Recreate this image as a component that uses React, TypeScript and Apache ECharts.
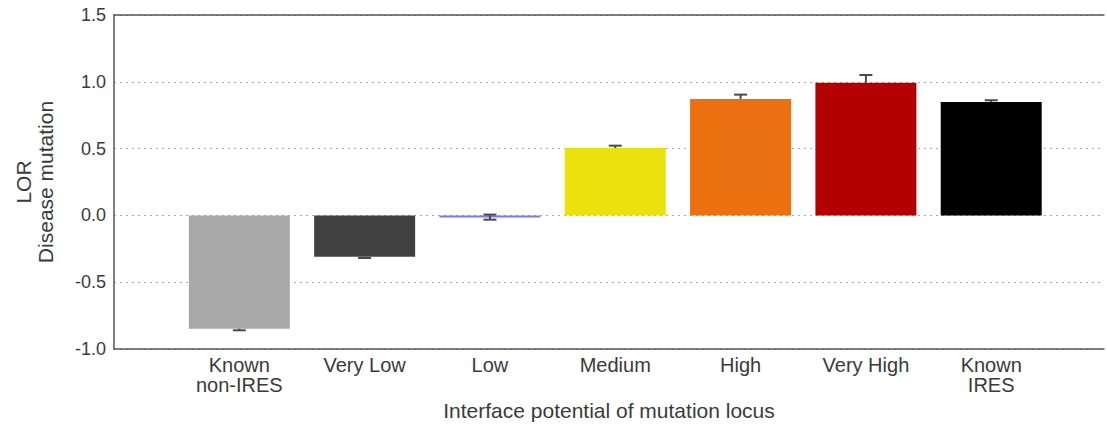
import React, { useEffect, useRef } from "react";
import * as echarts from "echarts";

// Categories of interface potential, left to right
const categories = ["Known\nnon-IRES", "Very Low", "Low", "Medium", "High", "Very High", "Known\nIRES"];
// Log odds ratio for disease mutations per category
const lorValues = [-0.848, -0.309, -0.016, 0.504, 0.871, 0.993, 0.849];
// Error interval bounds per category
const errorLow = [-0.86, -0.319, -0.032, 0.504, 0.871, 0.993, 0.849];
const errorHigh = [-0.848, -0.309, 0.006, 0.522, 0.904, 1.051, 0.862];
const barColors = ["#a8a8a8", "#404040", "#7b7bf0", "#ebe10c", "#eb700f", "#b30000", "#000000"];
const yMin = -1.0;
const yMax = 1.5;
const yStep = 0.5;

const TEXT = "#3a3a3a";
const FRAME = "#555555";
const FONT = "'Liberation Sans', Arial, Helvetica, sans-serif";

export default function App() {
  const ref = useRef<HTMLDivElement>(null);

  useEffect(() => {
    if (!ref.current) return;
    const chart = echarts.init(ref.current, undefined, { renderer: "svg" });
    const xMax = 7.9;

    chart.setOption({
      animation: false,
      textStyle: { fontFamily: FONT },
      grid: { left: 114, right: 0, top: 15, bottom: 82 },
      xAxis: [
        {
          type: "value",
          position: "bottom",
          min: 0,
          max: xMax,
          interval: 1,
          axisLine: { show: true, onZero: false, lineStyle: { color: FRAME, width: 1.5 } },
          axisTick: { show: false },
          splitLine: { show: false },
          axisLabel: {
            fontSize: 20,
            lineHeight: 20,
            color: TEXT,
            margin: 6,
            fontFamily: FONT,
            formatter: (v: number) => (Math.round(v) === v && v >= 1 && v <= categories.length ? categories[v - 1] : ""),
          },
          name: "Interface potential of mutation locus",
          nameLocation: "middle",
          nameGap: 50,
          nameTextStyle: { fontSize: 21, color: TEXT, fontFamily: FONT },
        },
        {
          type: "value",
          position: "top",
          min: 0,
          max: xMax,
          interval: 1,
          axisLine: { show: true, onZero: false, lineStyle: { color: FRAME, width: 1.5 } },
          axisTick: { show: false },
          axisLabel: { show: false },
          splitLine: { show: false },
        },
      ],
      yAxis: {
        type: "value",
        min: yMin,
        max: yMax,
        interval: yStep,
        axisLine: { show: true, onZero: false, lineStyle: { color: FRAME, width: 1.5 } },
        axisTick: { show: false },
        axisLabel: {
          fontSize: 18,
          color: TEXT,
          margin: 8,
          fontFamily: FONT,
          formatter: (v: number) => v.toFixed(1),
        },
        splitLine: { show: true, lineStyle: { type: [2, 4], color: "#aaaaaa", width: 1 } },
        name: "LOR\nDisease mutation",
        nameLocation: "middle",
        nameRotate: 90,
        nameGap: 58,
        nameTextStyle: { fontSize: 21, lineHeight: 22, color: TEXT, fontFamily: FONT },
      },
      series: [
        {
          type: "bar",
          xAxisIndex: 0,
          barWidth: 101,
          data: lorValues.map((v, i) => ({ value: [i + 1, v], itemStyle: { color: barColors[i] } })),
        },
        {
          type: "custom",
          xAxisIndex: 0,
          z: 5,
          data: lorValues.map((v, i) => [i + 1, errorLow[i], errorHigh[i], v]),
          renderItem: (_params: any, api: any) => {
            const x = api.value(0);
            const lo = api.value(1);
            const hi = api.value(2);
            const val = api.value(3);
            const pLo = api.coord([x, lo]);
            const pHi = api.coord([x, hi]);
            const half = 6.5;
            const style = { stroke: "#4a4a4a", lineWidth: 2 };
            const children: any[] = [
              { type: "line", shape: { x1: pLo[0], y1: pLo[1], x2: pHi[0], y2: pHi[1] }, style },
            ];
            if (lo !== val) {
              children.push({ type: "line", shape: { x1: pLo[0] - half, y1: pLo[1], x2: pLo[0] + half, y2: pLo[1] }, style });
            }
            if (hi !== val) {
              children.push({ type: "line", shape: { x1: pHi[0] - half, y1: pHi[1], x2: pHi[0] + half, y2: pHi[1] }, style });
            }
            return { type: "group", children };
          },
        },
      ],
    });

    return () => chart.dispose();
  }, []);

  return <div ref={ref} style={{ position: "absolute", left: 0, top: 0, width: 1107, height: 431 }} />;
}
